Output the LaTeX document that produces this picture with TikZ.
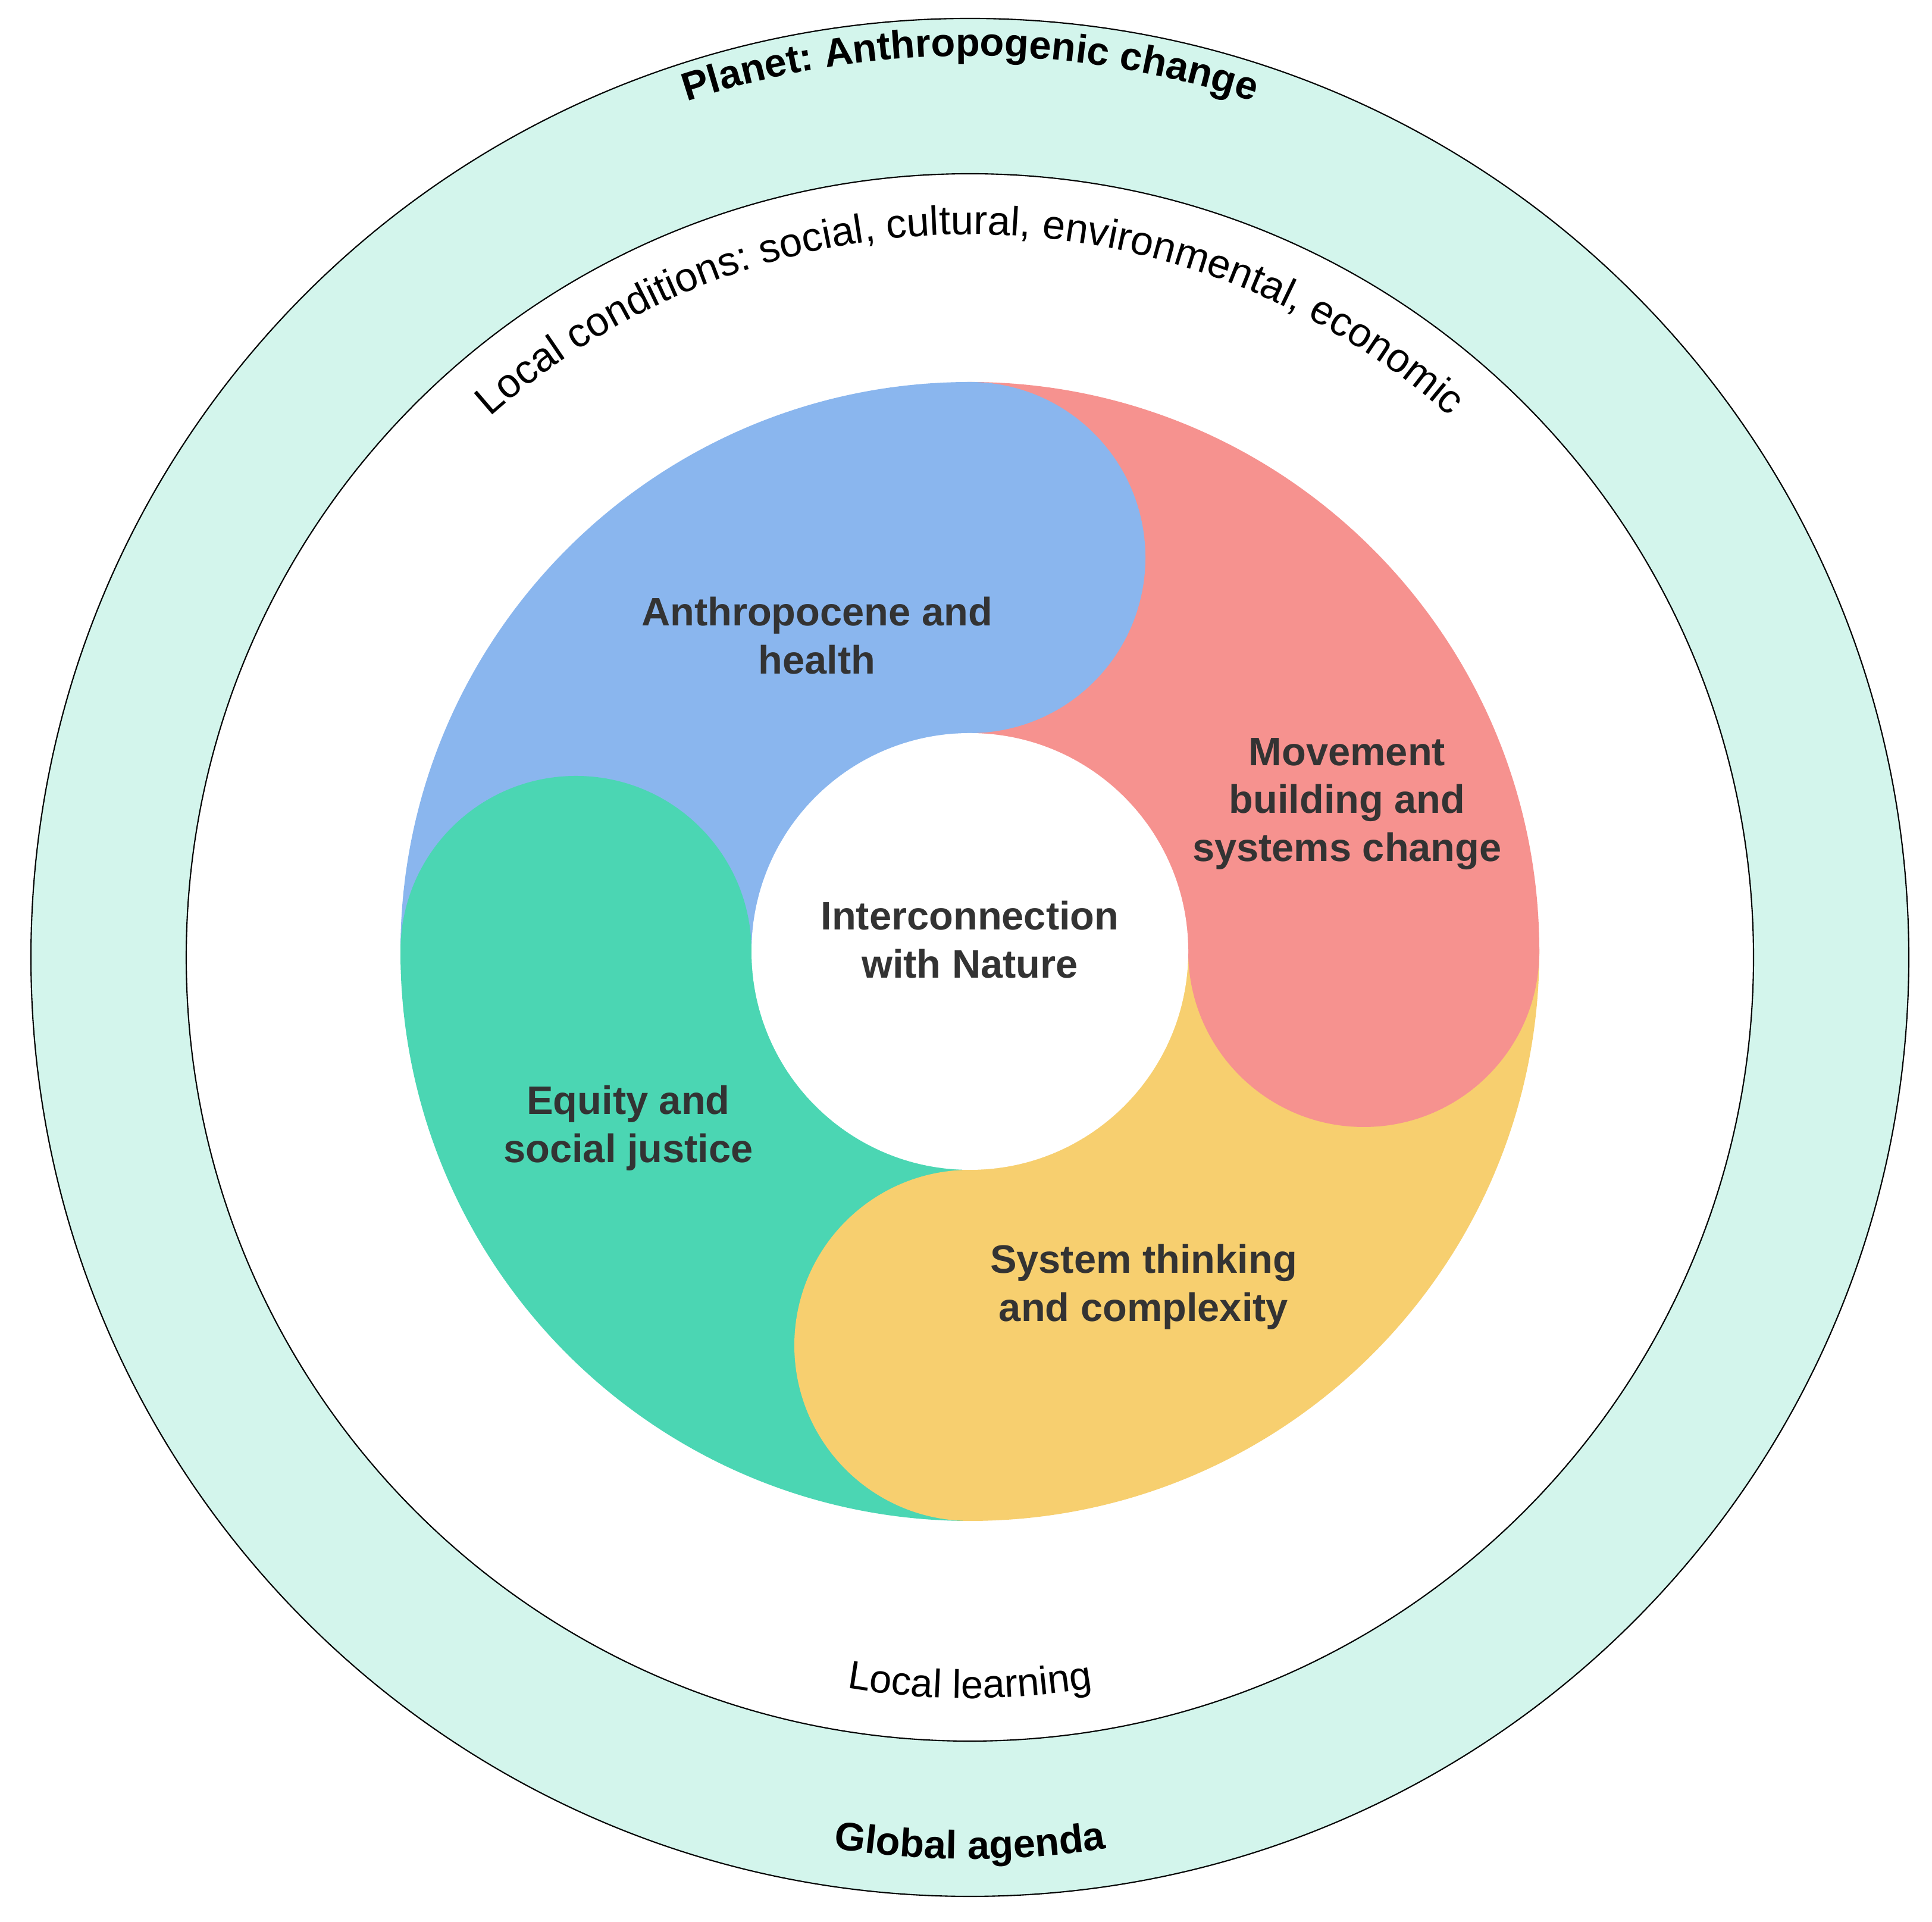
\documentclass[tikz,border=0pt]{standalone}
\usepackage{fontspec}
\setmainfont{Liberation Sans}
\usetikzlibrary{decorations.text}
\definecolor{cblue}{HTML}{8AB6EE}
\definecolor{cred}{HTML}{F6928F}
\definecolor{cgreen}{HTML}{4BD6B3}
\definecolor{cyellow}{HTML}{F7CF6F}
\definecolor{cband}{HTML}{D3F5EC}
\definecolor{ctext}{HTML}{333333}
\begin{document}
\begin{tikzpicture}[
  lbl/.style={align=center,font=\fontsize{19}{23}\selectfont\bfseries,text=ctext},
  arctext/.style={postaction={decorate},decoration={text along path,text align=center}}]
\useasboundingbox (0,0) rectangle (32.47,32.30);
\coordinate (C) at (16.30,16.21);
\coordinate (R) at (16.30,16.31);
\fill[cband,draw=black,line width=0.6pt] (C) circle (15.78);
\fill[white,draw=black,line width=0.6pt] (C) circle (13.17);
% sectors
\fill[cblue] (R) -- ++(90:9.57) arc[start angle=90,end angle=180,radius=9.57] -- cycle;
\fill[cgreen] (R) -- ++(180:9.57) arc[start angle=180,end angle=270,radius=9.57] -- cycle;
\fill[cyellow] (R) -- ++(270:9.57) arc[start angle=270,end angle=360,radius=9.57] -- cycle;
\fill[cred] (R) -- ++(0:9.57) arc[start angle=0,end angle=90,radius=9.57] -- cycle;
% bumps
\fill[cblue] (16.30,22.93) circle (2.95);
\fill[cred] (22.92,16.31) circle (2.95);
\fill[cyellow] (16.30,9.69) circle (2.95);
\fill[cgreen] (9.68,16.31) circle (2.95);
\fill[white] (R) circle (3.67);
% labels
\node[lbl] (a) at (13.73,21.62) {Anthropocene and\\health};
\node[lbl] (m) at (22.64,18.79) {Movement\\building and\\systems change};
\node[lbl] (i) at (16.30,16.51) {Interconnection\\with Nature};
\node[lbl] (e) at (10.56,13.34) {Equity and\\social justice};
\node[lbl] (s) at (19.22,10.67) {System thinking\\and complexity};
% arc texts
\path[arctext,decoration={text={|\fontsize{19}{23}\selectfont\bfseries|Planet: Anthropogenic change}}]
  (C) ++(110:15.15) arc[start angle=110,end angle=70,radius=15.15];
\path[arctext,decoration={text={|\fontsize{19.5}{23}\selectfont|Local conditions: social, cultural, environmental, economic}}]
  (C) ++(140:12.15) arc[start angle=140,end angle=40,radius=12.15];
\path[arctext,decoration={text={|\fontsize{19}{23}\selectfont|Local learning}}]
  (C) ++(250:12.45) arc[start angle=250,end angle=290,radius=12.45];
\path[arctext,decoration={text={|\fontsize{19}{23}\selectfont\bfseries|Global agenda}}]
  (C) ++(250:15.15) arc[start angle=250,end angle=290,radius=15.15];
\end{tikzpicture}
\end{document}
